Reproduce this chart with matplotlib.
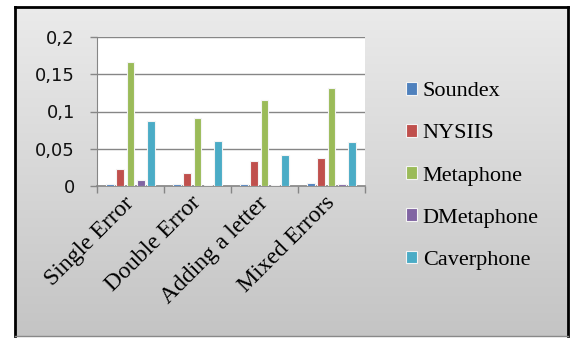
import numpy as np
import matplotlib.pyplot as plt

categories = ["Single Error", "Double Error", "Adding a letter", "Mixed Errors"]
series = ["Soundex", "NYSIIS", "Metaphone", "DMetaphone", "Caverphone"]
soundex = [0.003, 0.003, 0.003, 0.0045]
nysiis = [0.023, 0.017, 0.033, 0.038]
metaphone = [0.167, 0.091, 0.115, 0.131]
dmetaphone = [0.008, 0.002, 0.001, 0.003]
caverphone = [0.087, 0.061, 0.042, 0.059]
yticks = [0, 0.05, 0.1, 0.15, 0.2]
ytick_labels = ["0", "0,05", "0,1", "0,15", "0,2"]

colors = ["#4F81BD", "#C0504D", "#9BBB59", "#8064A2", "#4BACC6"]
values = [soundex, nysiis, metaphone, dmetaphone, caverphone]

W, H = 570, 338
fig = plt.figure(figsize=(W / 100, H / 100), dpi=100)
fig.patch.set_facecolor("white")

# gray gradient panel with black frame
bg = fig.add_axes([15 / W, 2 / H, 553 / W, 329 / H])
grad = np.linspace(0.92, 0.77, 256).reshape(-1, 1)
bg.imshow(np.dstack([grad, grad, grad]), aspect="auto", extent=[0, 1, 0, 1])
bg.set_xticks([])
bg.set_yticks([])
for s in bg.spines.values():
    s.set_color("black")
    s.set_linewidth(2)
bg.spines["bottom"].set_linewidth(1)
bg.spines["bottom"].set_color("#888888")

ax = fig.add_axes([97 / W, (H - 186) / H, 268 / W, 149 / H])
ax.set_facecolor("white")

x = np.arange(len(categories))
pitch = 0.154
width = 0.11
for i, (name, vals) in enumerate(zip(series, values)):
    ax.bar(x + (i - 2) * pitch, vals, width, color=colors[i], label=name,
           edgecolor="#f4f4f4", linewidth=0.8, zorder=3)

ax.set_xlim(-0.5, 3.5)
ax.set_ylim(0, 0.2)
ax.set_yticks(yticks)
ax.set_yticklabels(ytick_labels, fontfamily="DejaVu Sans", fontsize=13, color="#111111")
ax.yaxis.grid(True, color="#868686", linewidth=1.0, zorder=1)
ax.tick_params(axis="y", length=5, width=1, color="#868686", pad=11)

ax.set_xticks(np.arange(-0.5, 4, 1))
ax.set_xticklabels([])
ax.tick_params(axis="x", which="major", length=5, width=1, color="#868686")
ax.set_xticks(x, minor=True)
ax.set_xticklabels(categories, minor=True, rotation=45, ha="right", va="center",
                   rotation_mode="anchor", fontfamily="Liberation Serif", fontsize=17)
ax.tick_params(axis="x", which="minor", length=0, pad=10)

for s in ["top", "right"]:
    ax.spines[s].set_visible(False)
ax.spines["left"].set_color("#868686")
ax.spines["bottom"].set_color("#868686")
ax.spines["bottom"].set_linewidth(1.2)

leg = fig.legend(loc="upper left", bbox_to_anchor=(395 / W, (H - 71) / H),
                 frameon=False, prop={"family": "Liberation Serif", "size": 16},
                 handlelength=0.5, handleheight=0.5, handletextpad=0.25,
                 labelspacing=1.03, borderpad=0)

fig.savefig("out.png", dpi=100)
